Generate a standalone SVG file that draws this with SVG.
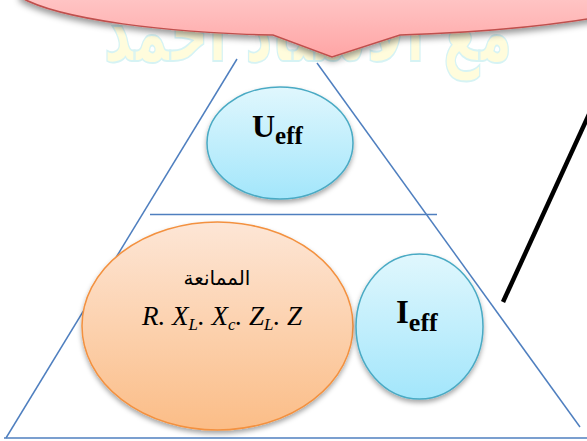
<svg xmlns="http://www.w3.org/2000/svg" width="587" height="441" viewBox="0 0 587 441">
<defs>
<linearGradient id="gPink" x1="0" y1="0" x2="0" y2="1"><stop offset="0" stop-color="#ffc9c9"/><stop offset="1" stop-color="#ffa5a5"/></linearGradient>
<linearGradient id="gBlue" x1="0" y1="0" x2="0" y2="1"><stop offset="0" stop-color="#e0f7fd"/><stop offset="1" stop-color="#a3e6fb"/></linearGradient>
<linearGradient id="gOrange" x1="0" y1="0" x2="0" y2="1"><stop offset="0" stop-color="#fde6d6"/><stop offset="1" stop-color="#fbbd87"/></linearGradient>
<filter id="sh" x="-20%" y="-20%" width="140%" height="150%"><feDropShadow dx="0" dy="3" stdDeviation="2.5" flood-color="#000" flood-opacity="0.35"/></filter>
<filter id="shc" x="-20%" y="-50%" width="140%" height="200%"><feDropShadow dx="0" dy="4" stdDeviation="3" flood-color="#000" flood-opacity="0.4"/></filter>
</defs>
<style>
.tri{stroke:#4f7fbf;stroke-width:1.5;fill:none}
.blue{fill:url(#gBlue);stroke:#4aaac4;stroke-width:1.5}
.orange{fill:url(#gOrange);stroke:#f3913f;stroke-width:1.5}
.big{font-family:"Liberation Serif",serif;font-weight:bold;fill:#000}
.math{font-family:"Liberation Serif",serif;font-style:italic;fill:#000}
</style>
<rect width="587" height="441" fill="#fff"/>
<g id="watermark">
<text transform="translate(308,61) scale(0.95,1.5)" x="0" y="0" text-anchor="middle" font-family="DejaVu Sans" font-weight="bold" font-size="56" fill="#fffcdc" stroke="#d6f3f4" stroke-width="1.2">مع الأستاذ أحمد</text>
</g>
<g id="callout">
<path d="M 20,-3 C 60,20 170,33 273,35 L 332,57 L 400,35 C 470,33 540,27 600,17 L 600,-10 L 20,-10 Z" fill="url(#gPink)" stroke="#c0504d" stroke-width="1.5" filter="url(#shc)"/>
</g>
<g id="connectors">
<line class="tri" x1="237" y1="59" x2="6" y2="438"/>
<line class="tri" x1="317" y1="63" x2="580" y2="427"/>
<line class="tri" x1="150" y1="214.5" x2="437" y2="214.5"/>
<line class="tri" x1="4" y1="438" x2="587" y2="438"/>
<line x1="503" y1="302" x2="590" y2="112" stroke="#000" stroke-width="4.5"/>
</g>
<g id="node-ueff">
<ellipse class="blue" cx="280" cy="143" rx="73" ry="56" filter="url(#sh)"/>
<text class="big" x="252" y="137" font-size="32">U<tspan font-size="25" dy="7">eff</tspan></text>
</g>
<g id="node-impedance">
<ellipse class="orange" cx="217.5" cy="326" rx="135.5" ry="104" filter="url(#sh)"/>
<text x="217" y="285" text-anchor="middle" font-family="DejaVu Sans" font-size="20" fill="#000">الممانعة</text>
<text class="math" x="222" y="325" text-anchor="middle" font-size="27">R. X<tspan font-size="17" dy="5">L</tspan><tspan dy="-5">. X</tspan><tspan font-size="17" dy="5">c</tspan><tspan dy="-5">. Z</tspan><tspan font-size="17" dy="5">L</tspan><tspan dy="-5">. Z</tspan></text>
</g>
<g id="node-ieff">
<ellipse class="blue" cx="419.5" cy="326.5" rx="63.5" ry="72.5" filter="url(#sh)"/>
<text class="big" x="396" y="323" font-size="33">I<tspan font-size="26" dy="8">eff</tspan></text>
</g>
</svg>
